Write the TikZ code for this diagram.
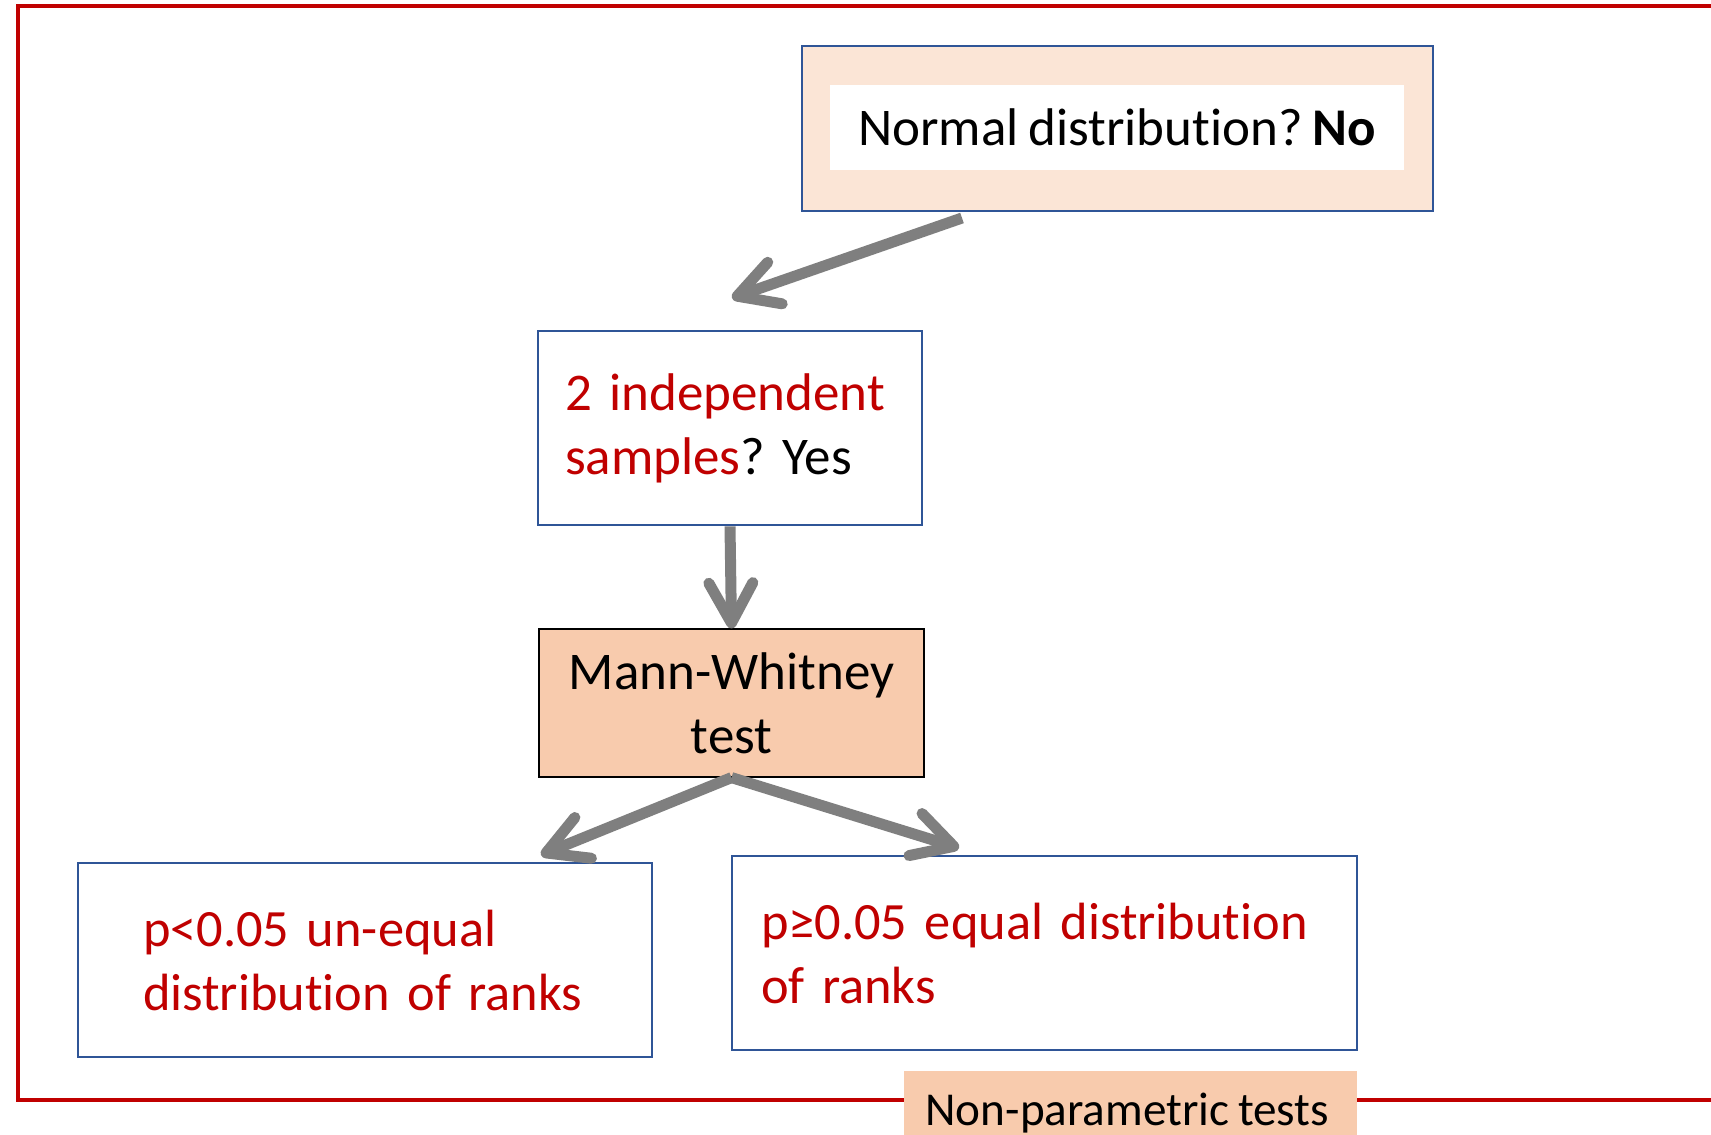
\documentclass[tikz,border=0pt]{standalone}
\usepackage{fontspec}
\setmainfont{Carlito}[Ligatures=NoCommon, WordSpace=0.8]
\usetikzlibrary{arrows.meta,calc}
\definecolor{boxblue}{RGB}{47,85,151}
\definecolor{darkred}{RGB}{192,0,0}
\definecolor{lightpeach}{RGB}{251,229,214}
\definecolor{peach}{RGB}{248,203,173}
\definecolor{arrowgray}{RGB}{127,127,127}
\tikzset{
  bluebox/.style={draw=boxblue, line width=1.4pt, fill=white, rectangle, inner ysep=0pt, align=left},
  flowarrow/.style={draw=arrowgray, line width=5.5pt, -{Straight Barb[length=20pt,width=22pt,round]}},
  txt/.style={font=\fontsize{26.5pt}{32pt}\selectfont},
  rtxt/.style={font=\fontsize{26.2pt}{32pt}\selectfont}
}
\frenchspacing
\begin{document}
\begin{tikzpicture}[x=0.5pt,y=-0.5pt]
\useasboundingbox (0,0) rectangle (1711,1134);
% red frame
\draw[darkred, line width=1.6pt] (1720,6) -- (18,6) -- (18,1100) -- (1720,1100);
% top question
\node[draw=boxblue, line width=1.4pt, fill=lightpeach, minimum width=315.5pt, minimum height=82.5pt, inner sep=0pt] (top) at (1117.5,128.5) {};
\node[txt, fill=white, minimum width=287pt, minimum height=42.5pt, inner sep=0pt] (q1) at (1117,127.5) {Normal distribution? \textbf{No}};
% second question
\node[bluebox, txt, text width=165pt, inner xsep=13.5pt, minimum height=97pt] (q2) at (730,428)
  {\textcolor{darkred}{2 independent}\\\textcolor{darkred}{samples}? Yes};
% Mann-Whitney
\node[txt, draw=black, line width=0.6pt, fill=peach, minimum width=192.5pt, minimum height=74pt, inner sep=0pt, align=center] (mw) at (731.5,703)
  {Mann-Whitney\\test};
% results
\node[bluebox, rtxt, text width=222pt, inner xsep=32.5pt, minimum height=97pt, text=darkred] (r1) at (365,960)
  {\mbox{p<0.05 un-equal}\\\mbox{distribution of ranks}};
\node[bluebox, rtxt, text width=283.5pt, inner xsep=14.5pt, minimum height=97pt, text=darkred] (r2) at (1044.5,953)
  {\mbox{p≥0.05 equal distribution}\\\mbox{of ranks}};
% label
\node[fill=peach, minimum width=226.5pt, minimum height=36pt, inner sep=0pt, anchor=north west] (lab) at (904,1071) {};
\node[font=\fontsize{23.6pt}{28pt}\selectfont, anchor=base west, inner sep=0pt] (labtext) at (925,1125) {Non-parametric tests};
% arrows
\coordinate (a1s) at (962,218);
\coordinate (a1e) at (732,298);
\coordinate (a3e) at (541,855);
\coordinate (a4e) at (959,848);
\draw[flowarrow] (a1s) -- (a1e);
\draw[flowarrow] (q2.south) -- (mw.north);
\draw[flowarrow] (mw.south) -- (a3e);
\draw[flowarrow] (mw.south) -- (a4e);
\end{tikzpicture}
\end{document}
